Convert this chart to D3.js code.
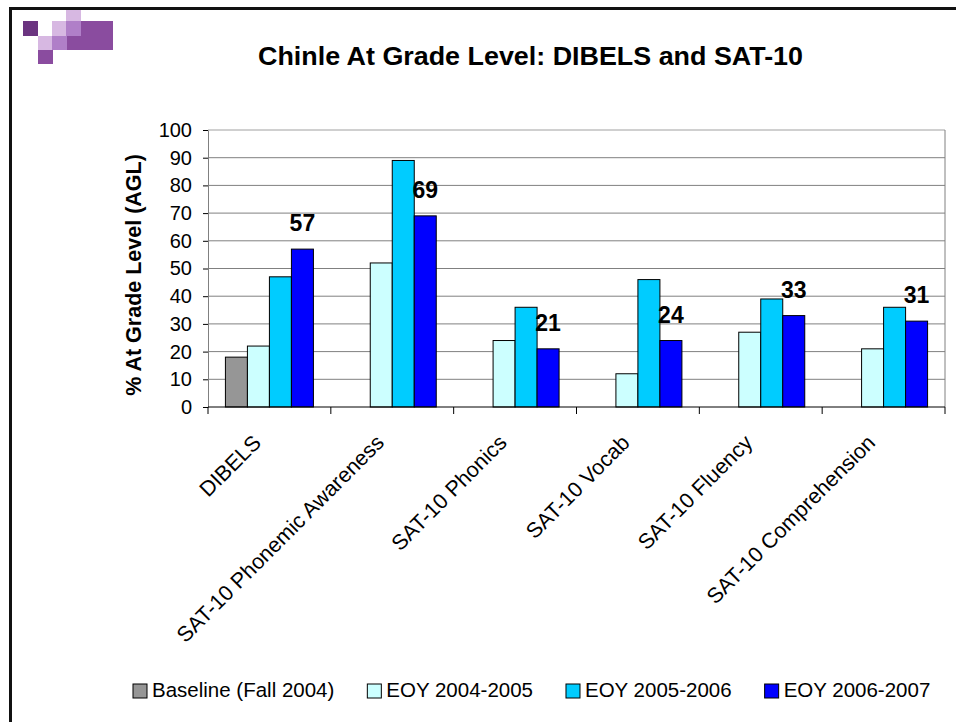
<!DOCTYPE html>
<html>
<head>
<meta charset="utf-8">
<script src="https://cdn.jsdelivr.net/npm/d3@7"></script>
<style>
  html, body { margin: 0; padding: 0; background: #fff; }
  svg { display: block; font-family: "Liberation Sans", Arial, sans-serif; }
</style>
</head>
<body>
<svg id="chart" width="956" height="722"></svg>
<script>
// ---- data ----
const categories = ["DIBELS", "SAT-10 Phonemic Awareness", "SAT-10 Phonics", "SAT-10 Vocab", "SAT-10 Fluency", "SAT-10 Comprehension"];
const seriesNames = ["Baseline (Fall 2004)", "EOY 2004-2005", "EOY 2005-2006", "EOY 2006-2007"];
const baseline2004 = [18, null, null, null, null, null];
const eoy2005 = [22, 52, 24, 12, 27, 21];
const eoy2006 = [47, 89, 36, 46, 39, 36];
const eoy2007 = [57, 69, 21, 24, 33, 31];
const labeledSeries = 3; // data labels shown for EOY 2006-2007
const yTicks = [0, 10, 20, 30, 40, 50, 60, 70, 80, 90, 100];
const seriesColors = ["#969696", "#ccffff", "#00ccff", "#0000ff"];
const titleText = "Chinle At Grade Level: DIBELS and SAT-10";
const yTitle = "% At Grade Level (AGL)";

const seriesValues = [baseline2004, eoy2005, eoy2006, eoy2007];

// ---- layout ----
const svg = d3.select("#chart");
const plot = { left: 208, right: 945, top: 130, bottom: 407 };
const barW = 22;

// slide frame (top + left)
svg.append("line").attr("x1", 9).attr("x2", 956).attr("y1", 8.5).attr("y2", 8.5)
  .attr("stroke", "#111").attr("stroke-width", 3);
svg.append("line").attr("x1", 10.5).attr("x2", 10.5).attr("y1", 7).attr("y2", 722)
  .attr("stroke", "#111").attr("stroke-width", 3);

// decorative squares (top-left)
const deco = [
  [66, 10, 15, 11, "#d7b8e2"],
  [23, 21, 15, 15, "#6b3480"],
  [52, 21, 14, 15, "#d7b8e2"],
  [66, 21, 15, 15, "#b07fc8"],
  [81, 21, 32, 15, "#8a4c9f"],
  [38, 36, 14, 14, "#d7b8e2"],
  [52, 36, 15, 14, "#b07fc8"],
  [67, 36, 46, 14, "#8a4c9f"],
  [38, 50, 15, 14, "#8a4c9f"]
];
svg.append("g").selectAll("rect").data(deco).join("rect")
  .attr("x", d => d[0]).attr("y", d => d[1]).attr("width", d => d[2]).attr("height", d => d[3])
  .attr("fill", d => d[4]);

// title
svg.append("text").attr("x", 530.5).attr("y", 65).attr("text-anchor", "middle")
  .attr("font-size", 26).attr("font-weight", "bold").attr("fill", "#000")
  .attr("textLength", 545).attr("lengthAdjust", "spacingAndGlyphs")
  .text(titleText);

// scales
const x0 = d3.scaleBand().domain(categories).range([plot.left, plot.right]).paddingInner(0).paddingOuter(0);
const x1 = d3.scaleBand().domain(d3.range(seriesNames.length))
  .range([(x0.bandwidth() - barW * seriesNames.length) / 2, (x0.bandwidth() + barW * seriesNames.length) / 2]);
const y = d3.scaleLinear().domain([0, 100]).range([plot.bottom, plot.top]);

// gridlines
svg.append("g").selectAll("line").data(yTicks.filter(t => t > 0)).join("line")
  .attr("x1", plot.left).attr("x2", plot.right)
  .attr("y1", d => y(d)).attr("y2", d => y(d))
  .attr("stroke", d => d === 100 ? "#a0a0a0" : "#808080").attr("stroke-width", 1);
// right border
svg.append("line").attr("x1", plot.right).attr("x2", plot.right).attr("y1", plot.top).attr("y2", plot.bottom)
  .attr("stroke", "#808080");

// bars
const groups = svg.append("g").selectAll("g").data(categories).join("g")
  .attr("transform", c => `translate(${x0(c)},0)`);
groups.selectAll("rect")
  .data((c, ci) => seriesValues.map((vals, si) => ({ si, v: vals[ci] })).filter(d => d.v != null))
  .join("rect")
  .attr("x", d => x1(d.si)).attr("width", x1.bandwidth())
  .attr("y", d => y(d.v)).attr("height", d => y(0) - y(d.v))
  .attr("fill", d => seriesColors[d.si]).attr("stroke", "#000").attr("stroke-width", 1);

// data labels
groups.append("text")
  .attr("x", x1(labeledSeries) + x1.bandwidth() / 2)
  .attr("y", (c, ci) => y(seriesValues[labeledSeries][ci]) - 18)
  .attr("text-anchor", "middle").attr("font-size", 23).attr("font-weight", "bold").attr("fill", "#000")
  .text((c, ci) => seriesValues[labeledSeries][ci]);

// y axis
const yAxis = svg.append("g").attr("transform", `translate(${plot.left},0)`)
  .call(d3.axisLeft(y).tickValues(yTicks).tickSize(5).tickPadding(11).tickSizeOuter(0));
yAxis.select(".domain").attr("stroke", "#808080");
yAxis.selectAll(".tick line").attr("stroke", "#000");
yAxis.selectAll(".tick text").attr("font-size", 20).attr("fill", "#000")
  .attr("font-family", "Liberation Sans, Arial, sans-serif");

// x axis line and ticks at category boundaries
const xAxisG = svg.append("g");
xAxisG.append("line").attr("x1", plot.left).attr("x2", plot.right).attr("y1", plot.bottom).attr("y2", plot.bottom)
  .attr("stroke", "#000");
const boundaries = categories.map(c => x0(c)).concat([x0(categories[categories.length - 1]) + x0.bandwidth()]);
xAxisG.selectAll("line.tk").data(boundaries).join("line").attr("class", "tk")
  .attr("x1", d => d).attr("x2", d => d).attr("y1", plot.bottom).attr("y2", plot.bottom + 7)
  .attr("stroke", "#000");
// rotated category labels
xAxisG.selectAll("text").data(categories).join("text")
  .attr("transform", c => `translate(${x0(c) + x0.bandwidth() / 2 - 7},${444}) rotate(-45)`)
  .attr("text-anchor", "end").attr("font-size", 21.5).attr("fill", "#000")
  .text(c => c);

// y title
svg.append("text").attr("transform", "translate(141,275) rotate(-90)")
  .attr("text-anchor", "middle").attr("font-size", 21.5).attr("font-weight", "bold").attr("fill", "#000")
  .text(yTitle);

// legend
const legend = svg.append("g");
let lx = 133;
seriesNames.forEach((name, i) => {
  legend.append("rect").attr("x", lx).attr("y", 684).attr("width", 14).attr("height", 14)
    .attr("fill", seriesColors[i]).attr("stroke", "#000").attr("stroke-width", 1);
  const t = legend.append("text").attr("x", lx + 19).attr("y", 697)
    .attr("font-size", 20.5).attr("fill", "#000").text(name);
  lx += 19 + t.node().getComputedTextLength() + 33;
});
</script>
</body>
</html>
